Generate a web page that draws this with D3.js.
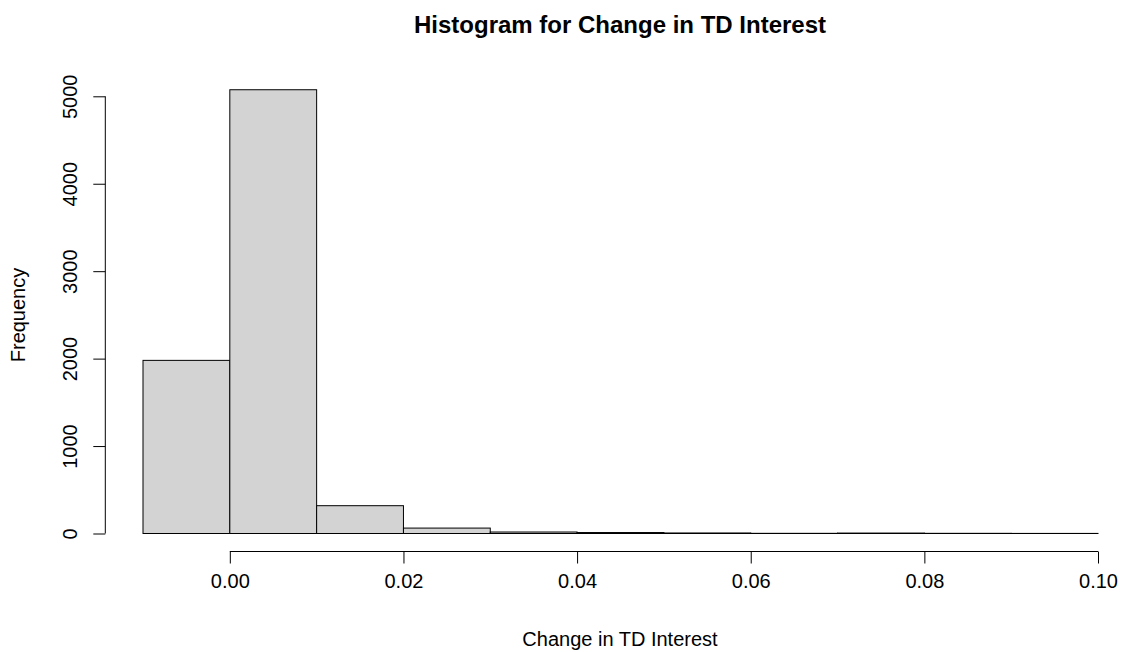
<!DOCTYPE html>
<html>
<head>
<meta charset="utf-8">
<script src="https://cdn.jsdelivr.net/npm/d3@7"></script>
<style>
  body { margin: 0; background: #fff; }
  text { font-family: "Liberation Sans", Arial, Helvetica, sans-serif; fill: #000; }
</style>
</head>
<body>
<svg id="chart" width="1121" height="652"></svg>
<script>
// Data
const binEdges = [-0.01, 0.00, 0.01, 0.02, 0.03, 0.04, 0.05, 0.06, 0.07, 0.08, 0.09, 0.10];
const counts   = [1980, 5075, 318, 62, 17, 11, 6, 2, 5, 2, 1];
const xTicks   = [0.00, 0.02, 0.04, 0.06, 0.08, 0.10];
const yTicks   = [0, 1000, 2000, 3000, 4000, 5000];
const titleText = "Histogram for Change in TD Interest";
const xLabel = "Change in TD Interest";
const yLabel = "Frequency";

const svg = d3.select("#chart");

const x = d3.scaleLinear().domain([-0.01, 0.10]).range([143, 1098]);
const y = d3.scaleLinear().domain([0, 5000]).range([533.5, 96.3]);

const bins = counts.map((c, i) => ({ x0: binEdges[i], x1: binEdges[i + 1], n: c }));

svg.append("g").selectAll("rect").data(bins).join("rect")
  .attr("x", d => x(d.x0))
  .attr("y", d => y(d.n))
  .attr("width", d => x(d.x1) - x(d.x0))
  .attr("height", d => y(0) - y(d.n))
  .attr("fill", "#d3d3d3")
  .attr("stroke", "#000")
  .attr("stroke-width", 1);

// X axis (R style: detached, spanning first to last tick)
const xAxis = d3.axisBottom(x).tickValues(xTicks).tickFormat(d3.format(".2f"))
  .tickSizeInner(12).tickSizeOuter(0).tickPadding(10);
const gx = svg.append("g").attr("transform", "translate(0,551.5)").call(xAxis);
gx.select(".domain").attr("d", `M${x(xTicks[0])},0H${x(xTicks[xTicks.length-1])}`);
gx.selectAll("text").attr("font-size", 20).attr("font-family", "Liberation Sans, Arial, sans-serif");
gx.selectAll("line, path").attr("stroke", "#000");

// Y axis (rotated labels, R style)
const yAxis = d3.axisLeft(y).tickValues(yTicks).tickFormat(d3.format("d"))
  .tickSizeInner(12).tickSizeOuter(0);
const gy = svg.append("g").attr("transform", "translate(105.3,0)").call(yAxis);
gy.select(".domain").attr("d", `M0,${y(yTicks[0])}V${y(yTicks[yTicks.length-1])}`);
gy.selectAll("line, path").attr("stroke", "#000");
gy.selectAll("text")
  .attr("font-size", 20)
  .attr("font-family", "Liberation Sans, Arial, sans-serif")
  .attr("x", null).attr("dy", null).attr("y", null)
  .attr("text-anchor", "middle")
  .attr("transform", "translate(-28,0) rotate(-90)");

// Title
svg.append("text")
  .attr("x", 620).attr("y", 33)
  .attr("text-anchor", "middle")
  .attr("font-size", 24).attr("font-weight", "bold")
  .text(titleText);

// X label
svg.append("text")
  .attr("x", 620).attr("y", 646)
  .attr("text-anchor", "middle")
  .attr("font-size", 20)
  .text(xLabel);

// Y label
svg.append("text")
  .attr("transform", "translate(25,315) rotate(-90)")
  .attr("text-anchor", "middle")
  .attr("font-size", 20)
  .text(yLabel);
</script>
</body>
</html>
